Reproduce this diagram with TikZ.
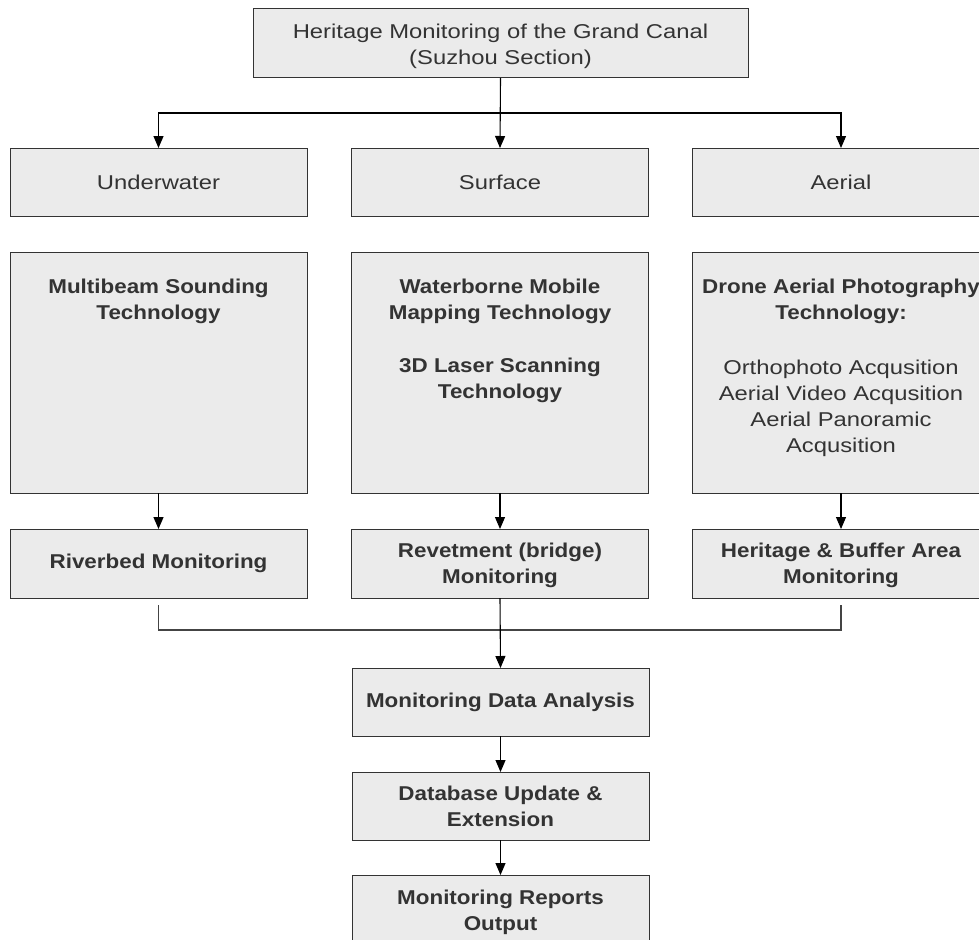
\documentclass[tikz,border=0pt]{standalone}
\usepackage{fontspec}
\setmainfont{Liberation Sans}[FakeStretch=1.19,BoldFeatures={FakeStretch=1.12}]
\usetikzlibrary{arrows.meta}
\definecolor{boxfill}{HTML}{EBEBEB}
\definecolor{boxline}{HTML}{333333}
\definecolor{txt}{HTML}{333333}
\definecolor{joinline}{HTML}{444444}
\begin{document}
\begin{tikzpicture}[x=1pt,y=-1pt,
  box/.style={draw=boxline,fill=boxfill,line width=1pt,minimum width=297pt,inner sep=0pt,outer sep=0pt},
  lbl/.style={text=txt,font=\fontsize{20}{26}\selectfont,align=center,inner sep=0pt},
  bl/.style={text=txt,font=\fontsize{20}{25.5}\selectfont\bfseries,align=center,inner sep=0pt},
  arr/.style={-{Triangle[length=12pt,width=10pt]},line width=1.1pt,black},
  ln/.style={line width=1.1pt,joinline}]
\useasboundingbox (0,0) rectangle (979,939);
\clip (0,0) rectangle (979,939);
% top
\node[box,minimum width=495pt,minimum height=69pt] (top) at (500.5,43.5) {};
\node[lbl,anchor=base] (topt) at (500.5,65) {Heritage Monitoring of the Grand Canal\\(Suzhou Section)};
% row 2
\node[box,minimum height=68pt,lbl] (uw) at (158.5,182) {Underwater};
\node[box,minimum height=68pt,lbl] (sf) at (500,182) {Surface};
\node[box,minimum height=68pt,lbl] (ae) at (841,182) {Aerial};
% row 3 boxes
\node[box,minimum height=241pt] (mb) at (158.5,372.5) {};
\node[box,minimum height=241pt] (wb) at (500,372.5) {};
\node[box,minimum height=241pt] (dr) at (841,372.5) {};
\node[bl,anchor=base] (mbt) at (158.5,319) {Multibeam Sounding\\Technology};
\node[bl,anchor=base] (wbt) at (500,319) {Waterborne Mobile\\Mapping Technology};
\node[bl,anchor=base] (wbt2) at (500,398) {3D Laser Scanning\\Technology};
\node[bl,anchor=base] (drt) at (841,319) {Drone Aerial Photography\\Technology:};
\node[lbl,anchor=base] (drl) at (841,452) {Orthophoto Acqusition\\Aerial Video Acqusition\\Aerial Panoramic\\Acqusition};
% row 4
\node[box,minimum height=69pt,bl] (rb) at (158.5,563.5) {Riverbed Monitoring};
\node[box,minimum height=69pt] (rv) at (500,563.5) {};
\node[bl,anchor=base] (rvt) at (500,583) {Revetment (bridge)\\Monitoring};
\node[box,minimum height=69pt] (hb) at (841,563.5) {};
\node[bl,anchor=base] (hbt) at (841,583) {Heritage \& Buffer Area\\Monitoring};
% bottom chain
\node[box,minimum height=68pt,bl] (an) at (500.5,702) {Monitoring Data Analysis};
\node[box,minimum height=68pt] (db) at (500.5,806) {};
\node[bl,anchor=base] (dbt) at (500.5,826) {Database Update \&\\Extension};
\node[box,minimum height=68pt] (rp) at (500.5,909) {};
\node[bl,anchor=base] (rpt) at (500.5,930) {Monitoring Reports\\Output};
% connectors
\coordinate (split) at (500,113);
\draw[arr] (top.south) -- (sf.north);
\draw[arr] (split) -| (uw.north);
\draw[arr] (split) -| (ae.north);
\draw[arr] (mb.south) -- (rb.north);
\draw[arr] (wb.south) -- (rv.north);
\draw[arr] (dr.south) -- (hb.north);
\coordinate (jn) at (500,630);
\draw[ln] ([yshift=-7pt]rb.south) |- (jn) -| ([yshift=-7pt]hb.south);
\draw[arr] (rv.south) -- (an.north);
\draw[arr] (an.south) -- (db.north);
\draw[arr] (db.south) -- (rp.north);
\end{tikzpicture}
\end{document}
